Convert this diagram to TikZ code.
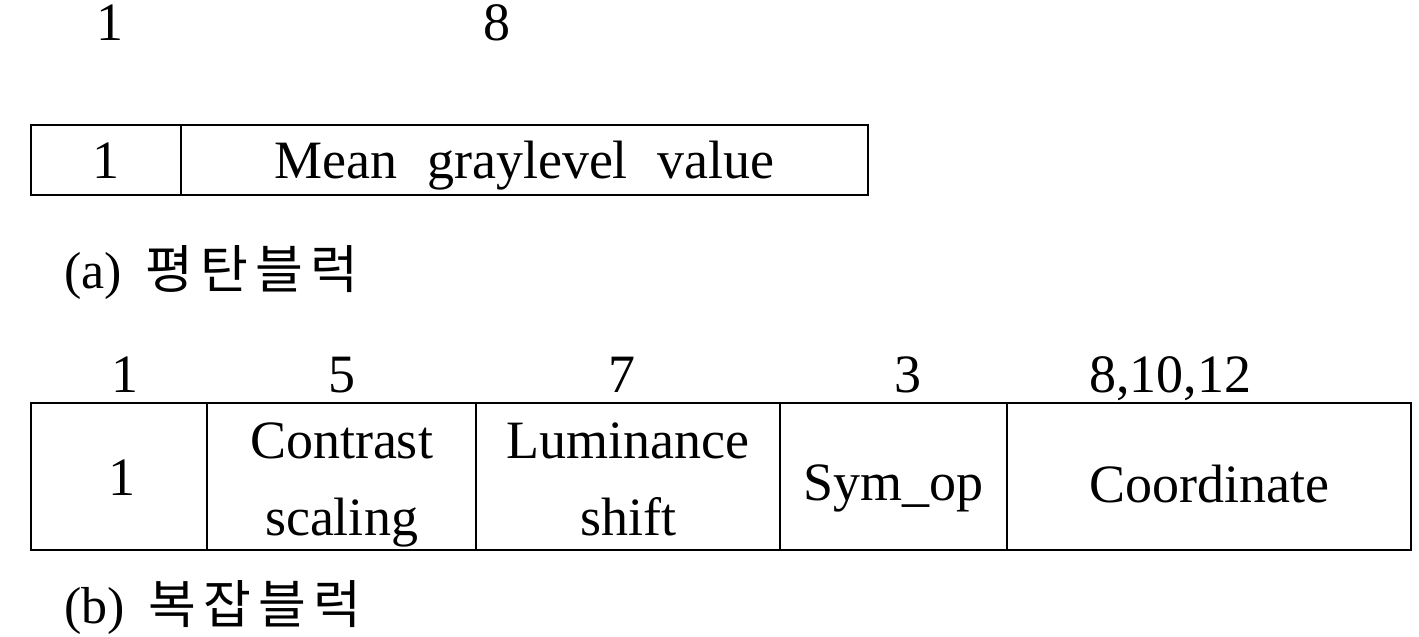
\documentclass[tikz,border=0pt]{standalone}
\usepackage{fontspec}
\setmainfont{Liberation Serif}
\newfontfamily\krfont[LetterSpace=14]{Noto Sans CJK KR}
\begin{document}
\begin{tikzpicture}[x=0.5pt,y=-0.5pt,
  cell/.style={draw,line width=1.4pt,inner sep=0pt},
  txt/.style={anchor=base,inner sep=0pt,font=\fontsize{27}{32}\selectfont},
  caption/.style={anchor=base west,inner sep=0pt,font=\fontsize{26}{30}\selectfont}]
\useasboundingbox (0,0) rectangle (1419,637);

% (a) flat block: field widths and fields
\node[cell,minimum width=75pt,minimum height=35pt] (a1) at (106,160) {};
\node[cell,minimum width=343.5pt,minimum height=35pt] (a2) at (524.5,160) {};
\node[txt] (la1) at (110,40) {1};
\node[txt] (la2) at (497,40) {8};
\node[txt] (ta1) at (a1.center |- 0,178) {1};
\node[txt] (ta2) at (a2.center |- 0,178) {Mean\hspace{0.55em}graylevel\hspace{0.55em}value};
\node[caption] (capa) at (64,288) {(a)\hspace{0.45em}{\krfont 평탄블럭}};

% (b) complex block: field widths and fields
\node[cell,minimum width=88pt,minimum height=73.5pt] (b1) at (119,476.5) {};
\node[cell,minimum width=134.5pt,minimum height=73.5pt] (b2) at (341.5,476.5) {};
\node[cell,minimum width=152pt,minimum height=73.5pt] (b3) at (628,476.5) {};
\node[cell,minimum width=113.5pt,minimum height=73.5pt] (b4) at (893.5,476.5) {};
\node[cell,minimum width=202pt,minimum height=73.5pt] (b5) at (1209,476.5) {};
\node[txt] (lb1) at (125,392) {1};
\node[txt] (lb2) at (342,392) {5};
\node[txt] (lb3) at (622,392) {7};
\node[txt] (lb4) at (908,392) {3};
\node[txt] (lb5) at (1170,392) {8,10,12};
\node[txt] (tb1) at (122,495) {1};
\node[txt] (tb2a) at (b2.center |- 0,458) {Contrast};
\node[txt] (tb2b) at (b2.center |- 0,535) {scaling};
\node[txt] (tb3a) at (b3.center |- 0,458) {Luminance};
\node[txt] (tb3b) at (b3.center |- 0,535) {shift};
\node[txt] (tb4) at (b4.center |- 0,500) {Sym\_op};
\node[txt] (tb5) at (b5.center |- 0,502) {Coordinate};
\node[caption] (capb) at (64,623) {(b)\hspace{0.45em}{\krfont 복잡블럭}};
\end{tikzpicture}
\end{document}
